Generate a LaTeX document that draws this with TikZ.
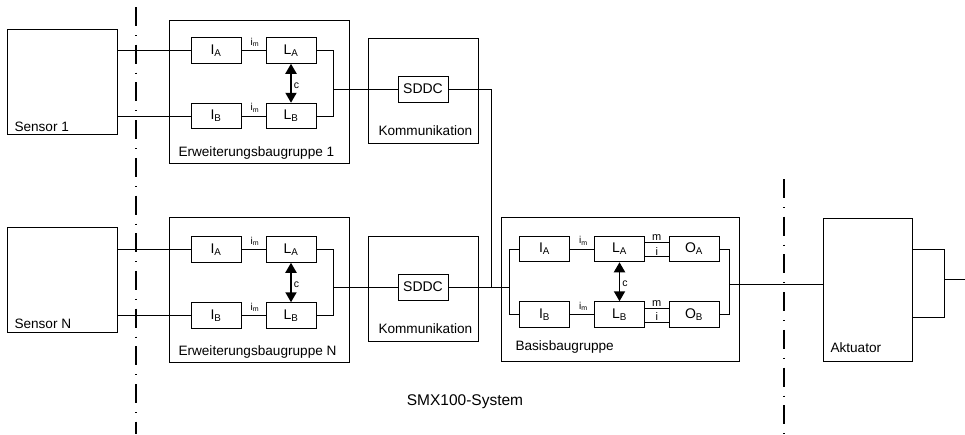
\documentclass[tikz,border=0pt]{standalone}
\usepackage{fontspec}
\setmainfont{Liberation Sans}
\usetikzlibrary{arrows.meta}
\begin{document}
\begin{tikzpicture}[x=1pt,y=-1pt,
  line width=1pt,
  frame/.style={draw, line width=1pt, inner sep=0pt},
  blk/.style={draw, line width=1pt, inner sep=0pt, minimum width=50pt, minimum height=25.5pt, font=\fontsize{14}{16}\selectfont},
  lbl/.style={inner sep=0pt, anchor=base west, font=\fontsize{13.6}{16}\selectfont},
  sm/.style={inner sep=0pt, font=\fontsize{10}{11}\selectfont},
  mi/.style={inner sep=0pt, font=\fontsize{11}{12}\selectfont},
  conn/.style={line width=0.9pt},
  dbl/.style={line width=1.9pt, {Triangle[width=11pt,length=10pt]}-{Triangle[width=11pt,length=10pt]}},
  sep/.style={line width=1.8pt, dash pattern=on 19pt off 9pt on 1pt off 8.7pt}
]
\useasboundingbox (0,0) rectangle (965,434);

% separators
\coordinate (t1) at (136,7);   \coordinate (b1) at (136,434);
\coordinate (t2) at (784,179); \coordinate (b2) at (784,434);
\draw[sep] (t1) -- (b1);
\draw[sep] (t2) -- (b2);

% sensors
\node[frame, minimum width=110pt, minimum height=105pt] (s1) at (62,81.5) {};
\node[lbl] (s1l) at (14,131) {Sensor 1};
\node[frame, minimum width=110pt, minimum height=105pt] (sN) at (62,279.5) {};
\node[lbl] (sNl) at (14,328) {Sensor N};

% Erweiterungsbaugruppe 1
\node[frame, minimum width=180pt, minimum height=143pt] (e1) at (259,91.5) {};
\node[lbl] (e1l) at (178,156) {Erweiterungsbaugruppe 1};
\node[blk] (ia1) at (216,50.5) {I\textsubscript{A}};
\node[blk] (la1) at (291,50.5) {L\textsubscript{A}};
\node[blk] (ib1) at (216,116) {I\textsubscript{B}};
\node[blk] (lb1) at (291,116) {L\textsubscript{B}};

% Erweiterungsbaugruppe N
\node[frame, minimum width=180pt, minimum height=145pt] (eN) at (259,289.5) {};
\node[lbl] (eNl) at (178,355) {Erweiterungsbaugruppe N};
\node[blk] (iaN) at (216,249.5) {I\textsubscript{A}};
\node[blk] (laN) at (291,249.5) {L\textsubscript{A}};
\node[blk] (ibN) at (216,315.5) {I\textsubscript{B}};
\node[blk] (lbN) at (291,315.5) {L\textsubscript{B}};

% Kommunikation
\node[frame, minimum width=110pt, minimum height=105pt] (k1) at (423,90.5) {};
\node[lbl] (k1l) at (378,135) {Kommunikation};
\node[blk, minimum height=26pt] (sd1) at (423,89) {SDDC};
\node[frame, minimum width=110pt, minimum height=105pt] (kN) at (423,288.5) {};
\node[lbl] (kNl) at (378,333) {Kommunikation};
\node[blk, minimum height=26pt] (sdN) at (423,287) {SDDC};

% Basisbaugruppe
\node[frame, minimum width=238pt, minimum height=144pt] (bb) at (620,289) {};
\node[lbl] (bbl) at (515,350) {Basisbaugruppe};
\node[blk] (ia3) at (544.5,249) {I\textsubscript{A}};
\node[blk] (la3) at (619.5,249) {L\textsubscript{A}};
\node[blk] (oa3) at (694,249) {O\textsubscript{A}};
\node[blk] (ib3) at (544.5,314.5) {I\textsubscript{B}};
\node[blk] (lb3) at (619.5,314.5) {L\textsubscript{B}};
\node[blk] (ob3) at (694,314.5) {O\textsubscript{B}};

% Aktuator
\node[frame, minimum width=89pt, minimum height=143pt] (akt) at (867.5,289.5) {};
\node[lbl] (aktl) at (830,352) {Aktuator};

% System label
\node[inner sep=0pt, anchor=base, font=\fontsize{15.5}{18}\selectfont] (sys) at (465,405) {SMX100-System};

% sensor connections
\draw[conn] (s1.east |- ia1) -- (ia1.west);
\draw[conn] (s1.east |- ib1) -- (ib1.west);
\draw[conn] (sN.east |- iaN) -- (iaN.west);
\draw[conn] (sN.east |- ibN) -- (ibN.west);

% I -> L with i_m
\foreach \a/\b in {ia1/la1, ib1/lb1, iaN/laN, ibN/lbN, ia3/la3, ib3/lb3}{
  \draw[conn] (\a.east) -- node[sm, above=3.5pt, xshift=1.5pt] {i\textsubscript{m}} (\b.west);
}

% c arrows
\foreach \a/\b in {la1/lb1, laN/lbN, la3/lb3}{
  \draw[dbl] (\a.south) -- node[mi, right=2pt, yshift=-2pt, font=\fontsize{10.5}{12}\selectfont] {c} (\b.north);
}

% L -> O with m / i
\foreach \a/\b in {la3/oa3, lb3/ob3}{
  \draw[conn] ([yshift=6.5pt]\a.east) -- node[mi, above=1.5pt] {m} ([yshift=6.5pt]\b.west);
  \draw[conn] ([yshift=-7.5pt]\a.east) -- node[mi, above=1pt] {i} ([yshift=-7.5pt]\b.west);
}

% Erweiterung brackets
\coordinate (r1) at (333,0);
\coordinate (rN) at (333,0);
\draw[conn] (la1.east) -- (la1.east -| r1) -- (lb1.east -| r1) -- (lb1.east);
\draw[conn] (sd1.west) -- (sd1.west -| r1);
\draw[conn] (laN.east) -- (laN.east -| rN) -- (lbN.east -| rN) -- (lbN.east);
\draw[conn] (sdN.west) -- (sdN.west -| rN);

% SDDC to Basis
\coordinate (v) at (491,0);
\coordinate (bl) at (509,0);
\draw[conn] (sd1.east) -- (sd1.east -| v) -- (v |- sdN.east);
\draw[conn] (sdN.east) -- (sdN.east -| bl);
\draw[conn] (ia3.west) -- (ia3.west -| bl) -- (ib3.west -| bl) -- (ib3.west);

% Basis to Aktuator
\coordinate (br) at (729,0);
\coordinate (ain) at (729,284);
\draw[conn] (oa3.east) -- (oa3.east -| br) -- (ob3.east -| br) -- (ob3.east);
\draw[conn] (ain) -- (ain -| akt.west);

% Aktuator output
\coordinate (ao1) at (912,249);
\coordinate (ao2) at (912,317);
\coordinate (ar) at (944,0);
\coordinate (out) at (965,279);
\draw[conn] (ao1) -- (ao1 -| ar) -- (ao2 -| ar) -- (ao2);
\draw[conn] (out -| ar) -- (out);
\end{tikzpicture}
\end{document}
